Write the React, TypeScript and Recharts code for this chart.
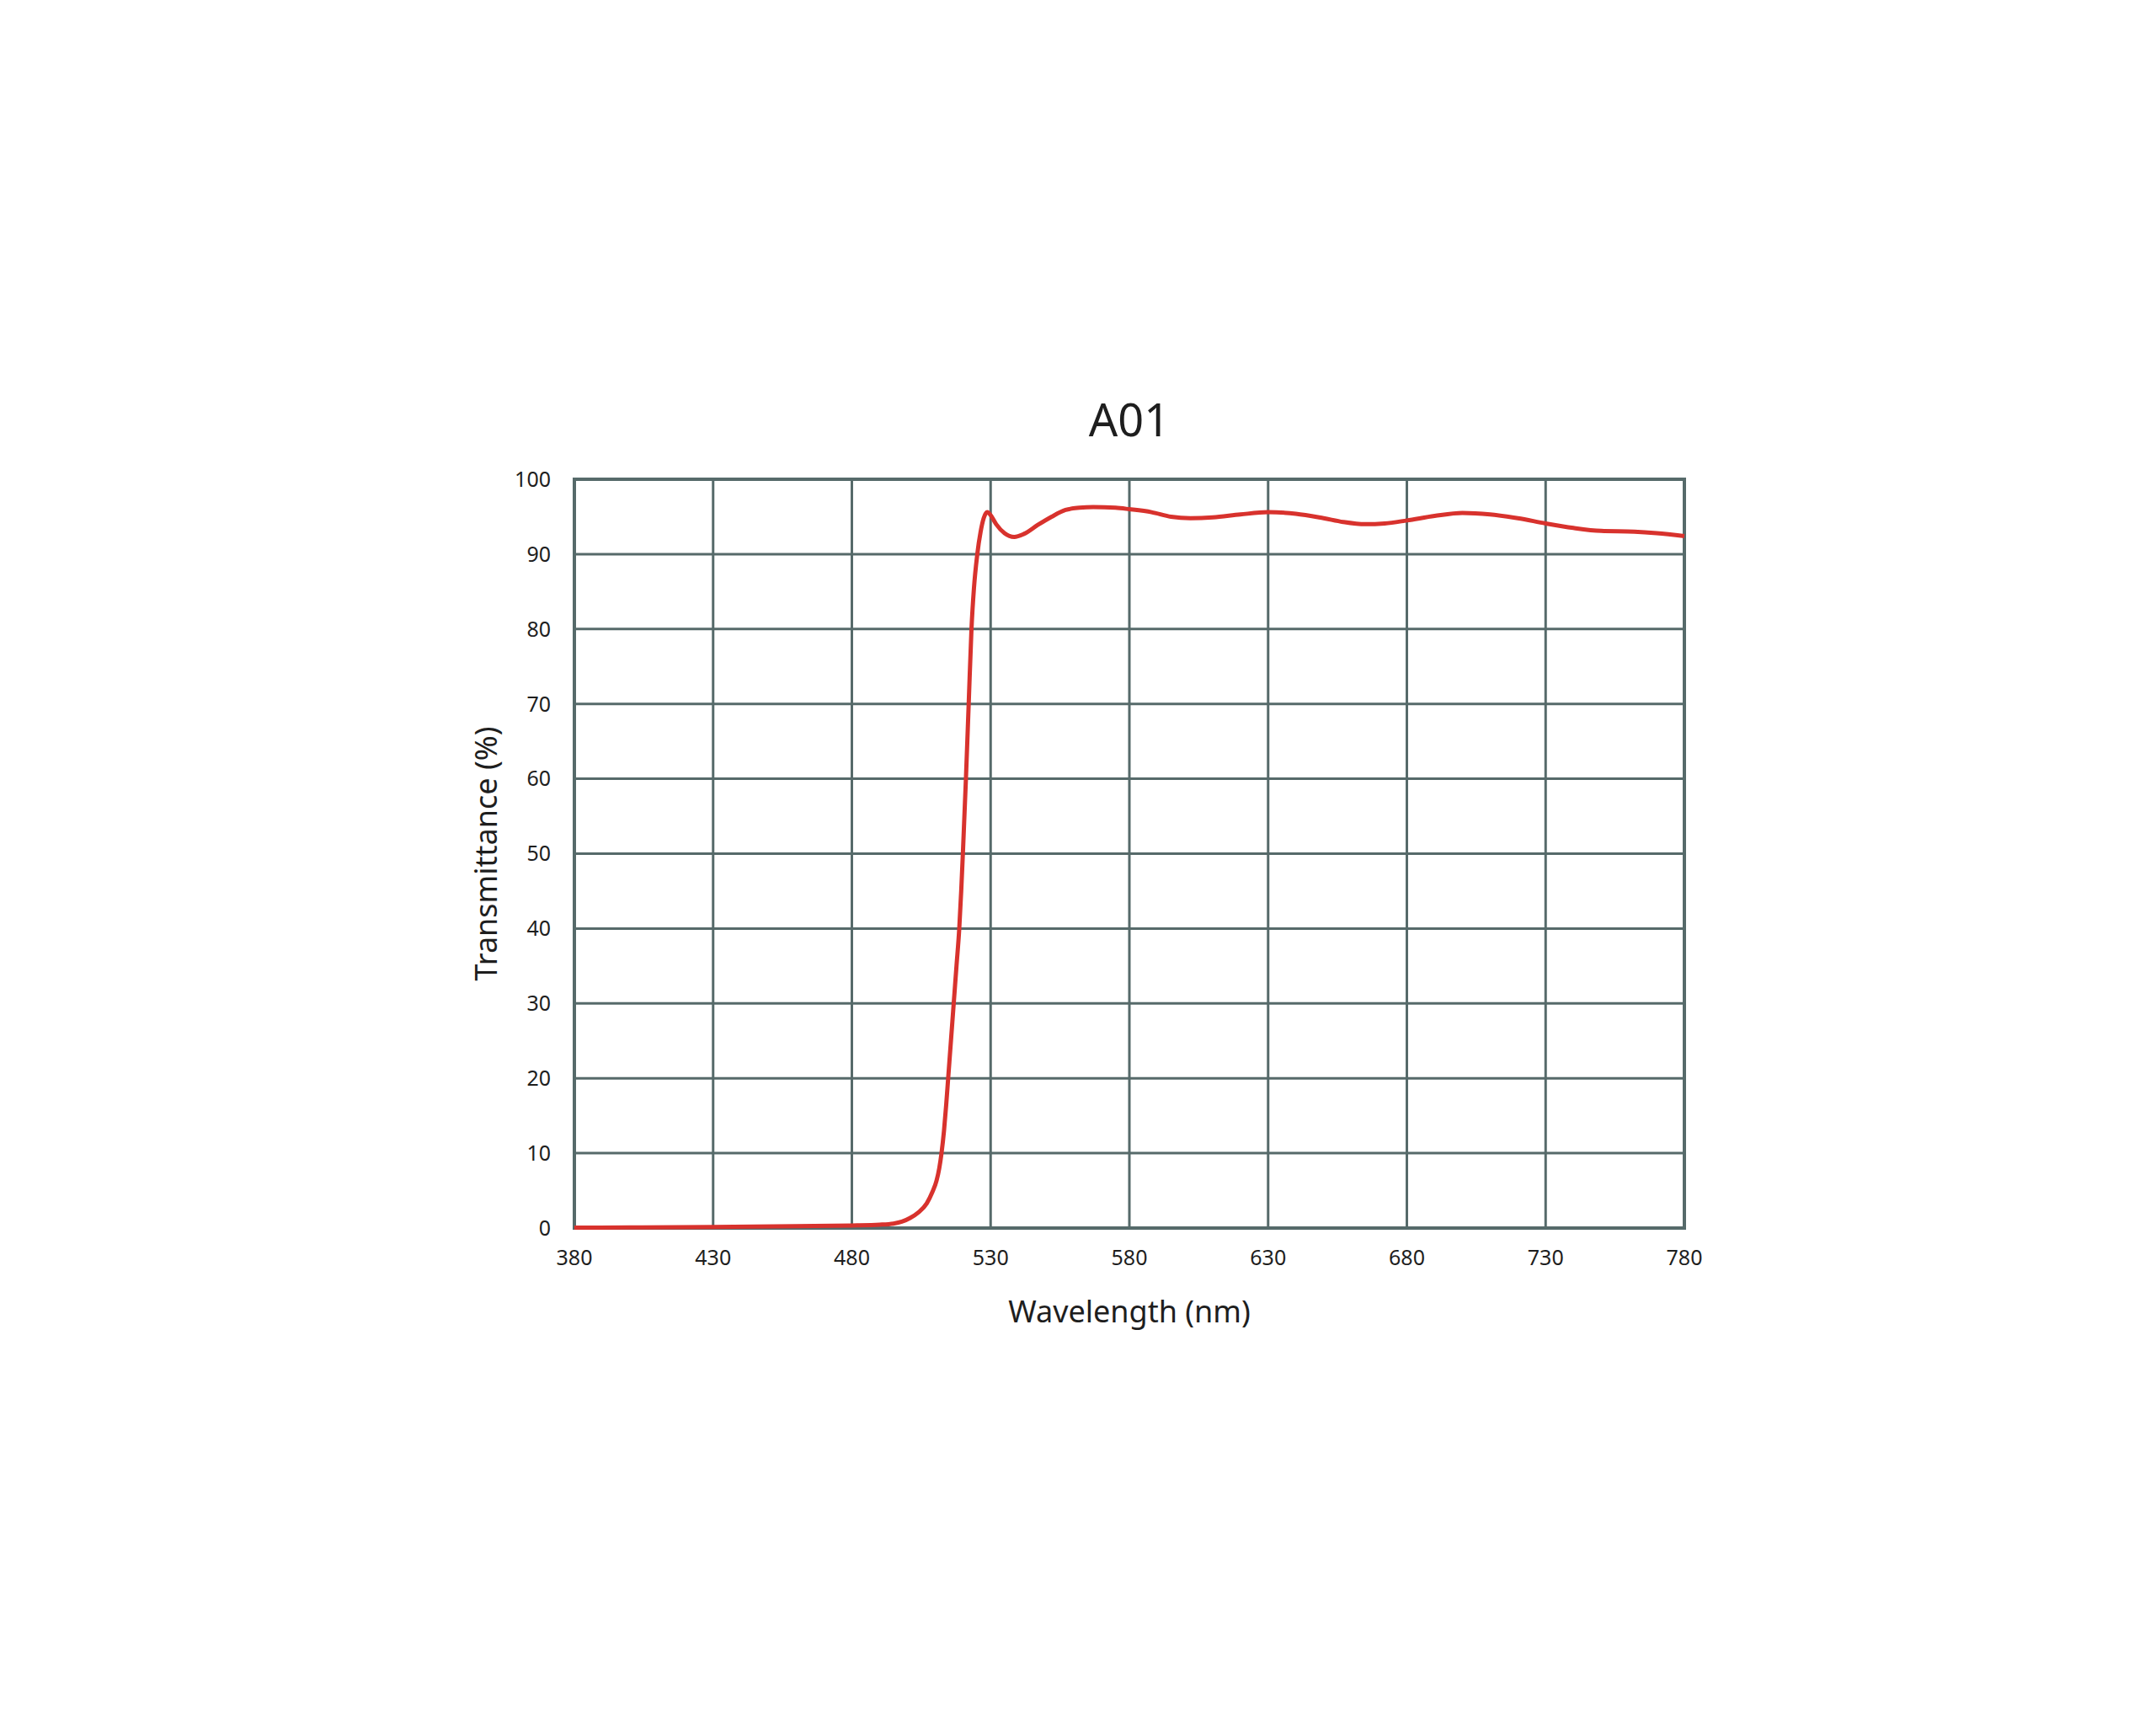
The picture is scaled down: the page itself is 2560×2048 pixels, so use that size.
import { CartesianGrid, Label, Line, LineChart, ReferenceArea, XAxis, YAxis } from 'recharts'

const TITLE = 'A01'
const X_LABEL = 'Wavelength (nm)'
const Y_LABEL = 'Transmittance (%)'

const X_TICKS = [380, 430, 480, 530, 580, 630, 680, 730, 780]
const Y_TICKS = [0, 10, 20, 30, 40, 50, 60, 70, 80, 90, 100]

const WAVELENGTHS = [
  380, 400, 430, 460, 480, 490, 495, 498, 501, 504, 507, 509, 510.5, 511.5, 512.3, 513.2, 514, 514.7, 515.7,
  516.7, 517.7, 518.7, 519.4, 520, 521.1, 522.1, 523.1, 524, 525.2, 526.4, 527.5, 528.8, 530, 532, 535, 538.5,
  542, 547, 552, 557, 562, 567, 575, 580, 588, 595, 602, 610, 620, 630, 640, 650, 657, 665, 672, 680, 690, 700,
  710, 720, 730, 740, 750, 762, 770, 780
]
const TRANSMITTANCE = [
  0.05, 0.08, 0.15, 0.25, 0.35, 0.45, 0.6, 0.85, 1.35, 2.1, 3.3, 4.8, 6.3, 8.0, 10, 13, 16.5, 20, 25,
  30, 35, 40, 45, 50, 60, 70, 80, 85.5, 90, 93, 94.8, 95.6, 95.2, 94.0, 92.8, 92.3,
  92.7, 93.9, 95.0, 95.9, 96.2, 96.3, 96.2, 96.0, 95.6, 95.0, 94.8, 94.9, 95.3, 95.6, 95.4, 94.8, 94.3, 94.0, 94.1, 94.5, 95.1, 95.5,
  95.3, 94.8, 94.1, 93.5, 93.1, 93.0, 92.8, 92.4
]

const data = WAVELENGTHS.map((w, i) => ({ w, t: TRANSMITTANCE[i] }))

const COLORS = {
  grid: '#566a6a',
  line: '#d8322d',
  text: '#1e1e1e'
}

const FONT = '"Noto Sans", "Open Sans", sans-serif'

export default function App() {
  return (
    <div style={{ position: 'absolute', left: 0, top: 0, width: 2560, height: 2048, background: '#fff', fontFamily: FONT }}>
      <LineChart
        width={2560}
        height={2048}
        data={data}
        margin={{ top: 569, right: 560, bottom: 0, left: 0 }}
        style={{ fontFamily: FONT }}
      >
        <CartesianGrid stroke={COLORS.grid} strokeWidth={3} />
        <XAxis
          dataKey="w"
          type="number"
          domain={[380, 780]}
          ticks={X_TICKS}
          height={590}
          tickSize={0}
          tickMargin={26}
          tickLine={false}
          axisLine={false}
          tick={{ fill: COLORS.text, fontSize: 25, fontFamily: FONT }}
        >
          <Label value={X_LABEL} position="insideTop" offset={86} fill={COLORS.text} fontSize={36} fontFamily={FONT} />
        </XAxis>
        <YAxis
          type="number"
          domain={[0, 100]}
          ticks={Y_TICKS}
          width={682}
          tickSize={0}
          tickMargin={28}
          tickLine={false}
          axisLine={false}
          tick={{ fill: COLORS.text, fontSize: 25, fontFamily: FONT }}
        >
          <Label
            value={Y_LABEL}
            position="insideLeft"
            angle={-90}
            offset={577}
            fill={COLORS.text}
            fontSize={36}
            fontFamily={FONT}
            style={{ textAnchor: 'middle' }}
          />
        </YAxis>
        <ReferenceArea x1={380} x2={780} y1={0} y2={100} fill="none" stroke={COLORS.grid} strokeWidth={4} ifOverflow="visible" />
        <Line
          type="monotone"
          dataKey="t"
          stroke={COLORS.line}
          strokeWidth={5}
          dot={false}
          activeDot={false}
          isAnimationActive={false}
        />
      </LineChart>
      <svg width={2560} height={2048} style={{ position: 'absolute', left: 0, top: 0, pointerEvents: 'none' }}>
        <text x={1341} y={518} textAnchor="middle" fontSize={54} fill={COLORS.text} fontFamily={FONT}>
          {TITLE}
        </text>
      </svg>
    </div>
  )
}
